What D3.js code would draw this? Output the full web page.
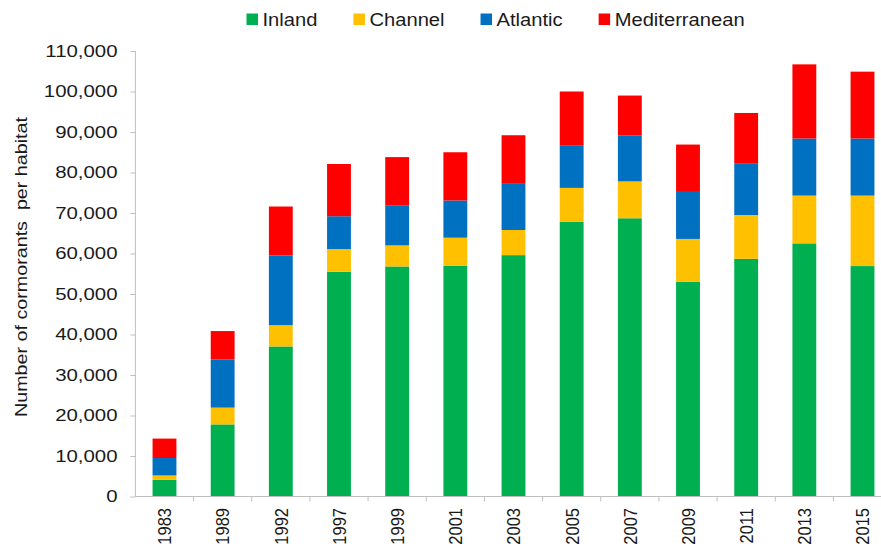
<!DOCTYPE html>
<html>
<head>
<meta charset="utf-8">
<script src="https://cdn.jsdelivr.net/npm/d3@7"></script>
<style>
  html, body { margin: 0; padding: 0; background: #fff; }
  svg { display: block; font-family: "Liberation Sans", Arial, sans-serif; }
</style>
</head>
<body>
<svg id="chart" width="881" height="556"></svg>
<script>
const years = ["1983","1989","1992","1997","1999","2001","2003","2005","2007","2009","2011","2013","2015"];
const seriesNames = ["Inland","Channel","Atlantic","Mediterranean"];
const seriesColors = ["#00B050","#FFC000","#0070C0","#FF0000"];
const inland        = [4100, 17800, 37050, 55500, 56800, 57000, 59600, 67800, 68700, 53000, 58700, 62500, 56900];
const channel       = [1100,  4150,  5250,  5600,  5200,  6900,  6200,  8400,  9100, 10600, 10800, 11800, 17400];
const atlantic      = [4300, 11850, 17200,  8100,  9800,  9200, 11400, 10400, 11300, 11600, 12800, 14100, 14100];
const mediterranean = [4800,  7050, 12100, 12900, 12000, 11900, 12000, 13400,  9900, 11700, 12400, 18300, 16500];
const yTicks = [0,10000,20000,30000,40000,50000,60000,70000,80000,90000,100000,110000];
const yTitle = "Number of cormorants  per habitat";

const rows = years.map((y, i) => ({
  year: y, Inland: inland[i], Channel: channel[i], Atlantic: atlantic[i], Mediterranean: mediterranean[i]
}));
const stacked = d3.stack().keys(seriesNames)(rows);

const svg = d3.select("#chart");
const axisColor = "#bfbfbf";
const textColor = "#1a1a1a";

const x = d3.scaleBand().domain(years).range([135.4, 891.6]).paddingInner(0.59).paddingOuter(0.295);
const y = d3.scaleLinear().domain([0, 110000]).range([496.5, 51]);
const color = d3.scaleOrdinal().domain(seriesNames).range(seriesColors);

// bars
svg.append("g").selectAll("g").data(stacked).join("g")
  .attr("fill", d => color(d.key))
  .selectAll("rect").data(d => d).join("rect")
  .attr("x", d => x(d.data.year))
  .attr("width", x.bandwidth())
  .attr("y", d => y(d[1]))
  .attr("height", d => y(d[0]) - y(d[1]));

// y axis
const yAxis = svg.append("g").attr("transform", `translate(${x.range()[0]},0)`)
  .call(d3.axisLeft(y).tickValues(yTicks).tickSize(5).tickFormat(() => ""));
yAxis.select(".domain").attr("stroke", axisColor).attr("d", `M0,${y(0)}V${y(110000)}`);
yAxis.selectAll(".tick line").attr("stroke", axisColor);
svg.append("g").selectAll("text").data(yTicks).join("text")
  .attr("transform", d => `translate(117.5,${y(d)}) scale(1.2,1)`)
  .attr("dy", "0.35em")
  .attr("text-anchor", "end")
  .attr("font-size", 17)
  .attr("fill", textColor)
  .text(d => d3.format(",")(d));

// x axis
const xg = svg.append("g").attr("transform", `translate(0,${y(0)})`);
xg.append("line").attr("x1", x.range()[0]).attr("x2", x.range()[1]).attr("stroke", axisColor);
const step = x.step();
const boundaries = years.map((yr, i) => x.range()[0] + (i + 1) * step);
xg.selectAll("line.tk").data(boundaries).join("line").attr("class", "tk")
  .attr("x1", d => d).attr("x2", d => d).attr("y1", 0).attr("y2", 5).attr("stroke", axisColor);
svg.append("g").selectAll("text").data(years).join("text")
  .attr("transform", d => `translate(${x(d) + x.bandwidth() / 2},508) scale(1.15,1) rotate(-90)`)
  .attr("dy", "0.36em")
  .attr("text-anchor", "end")
  .attr("font-size", 16.5)
  .attr("fill", textColor)
  .text(d => d);

// y title
svg.append("text")
  .attr("transform", "translate(26.5,267) rotate(-90)")
  .attr("text-anchor", "middle")
  .attr("font-size", 16.5)
  .attr("textLength", 300)
  .attr("lengthAdjust", "spacingAndGlyphs")
  .attr("fill", textColor)
  .attr("xml:space", "preserve")
  .style("white-space", "pre")
  .text(yTitle);

// legend
const legend = svg.append("g");
let lx = 246.5;
seriesNames.forEach((name, i) => {
  legend.append("rect").attr("x", lx).attr("y", 13.5).attr("width", 11.5).attr("height", 11.5).attr("fill", color(name));
  const t = legend.append("text")
    .attr("transform", `translate(${lx + 16},25.5) scale(1.09,1)`)
    .attr("font-size", 18.5)
    .attr("fill", textColor)
    .text(name);
  const w = t.node().getComputedTextLength() * 1.09;
  lx = lx + 16 + w + 36;
});
</script>
</body>
</html>
